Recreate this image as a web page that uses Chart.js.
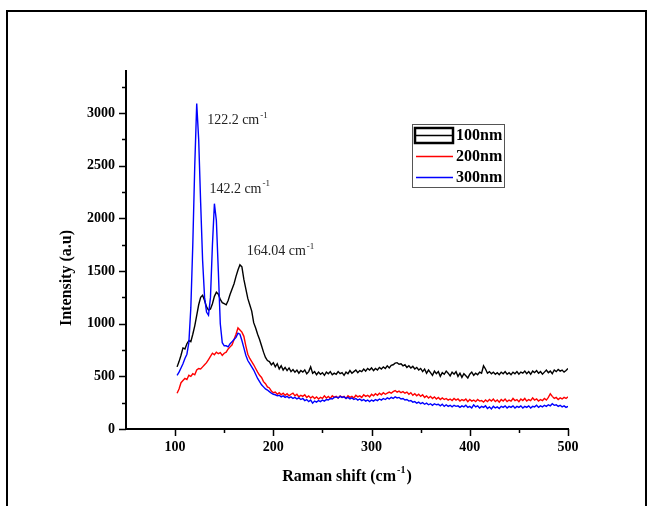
<!DOCTYPE html>
<html>
<head>
<meta charset="utf-8">
<script src="https://cdn.jsdelivr.net/npm/chart.js@4.4.1/dist/chart.umd.min.js"></script>
<style>
  html, body { margin: 0; padding: 0; background: #fff; }
  #chart { display: block; }
</style>
</head>
<body>
<canvas id="chart" width="653" height="506"></canvas>
<script>
// Raman spectra, one reading every 2 cm-1 from 102 to 500 cm-1
const shiftStart = 102;
const shiftStep = 2;

const intensity100nm = [
  590, 640, 700, 770, 760, 810, 840, 830, 900, 980,
  1080, 1180, 1250, 1270, 1220, 1160, 1130, 1140, 1190, 1260,
  1300, 1280, 1230, 1200, 1190, 1180, 1220, 1280, 1330, 1380,
  1450, 1510, 1560, 1540, 1420, 1330, 1240, 1180, 1120, 1010,
  960, 900, 850, 790, 730, 680, 650, 640, 610, 630,
  590, 620, 570, 600, 560, 585, 555, 580, 545, 565,
  540, 560, 530, 555, 540, 560, 525, 545, 590, 530,
  545, 515, 540, 520, 535, 510, 540, 525, 545, 515,
  530, 520, 545, 525, 535, 510, 540, 525, 555, 530,
  545, 560, 535, 555, 545, 570, 550, 575, 560, 580,
  555, 575, 560, 585, 570, 590, 575, 600, 580, 605,
  610, 625, 630, 615, 620, 600, 610, 585, 600, 580,
  595, 570, 585, 560, 575, 545, 570, 530, 560, 535,
  510, 550, 525, 545, 500, 535, 520, 550, 530, 505,
  540, 520, 545, 500, 530, 490, 525, 505, 485, 520,
  540, 510, 530, 515, 540, 530, 600, 570, 530, 545,
  525, 540, 520, 535, 515, 540, 525, 545, 520, 535,
  515, 540, 525, 545, 520, 540, 530, 550, 525, 545,
  520, 550, 535, 555, 530, 545, 520, 540, 560, 535,
  550, 525, 560, 545, 565, 550, 560, 540, 555, 575
];

const intensity200nm = [
  340, 380, 440, 460, 480, 470, 510, 500, 525, 515,
  560, 575, 570, 590, 610, 630, 660, 690, 720, 705,
  730, 715, 725, 700, 720, 730, 760, 780, 800, 850,
  900, 960, 940, 920, 880, 790, 710, 670, 640, 610,
  575, 540, 510, 490, 450, 430, 400, 390, 360, 345,
  350, 330, 345, 325, 340, 320, 335, 315, 330, 340,
  315, 330, 305, 320, 310, 325, 300, 315, 295, 310,
  290, 305, 285, 300, 290, 315, 295, 310, 290, 315,
  300, 310, 295, 315, 300, 310, 290, 315, 300, 310,
  295, 320, 305, 315, 300, 325, 310, 320, 305, 330,
  315, 335, 320, 340, 325, 345, 330, 340, 350, 340,
  355, 365, 350, 360, 345, 355, 340, 350, 330, 345,
  320, 335, 315, 330, 310, 325, 300, 315, 295, 310,
  290, 305, 285, 300, 280, 295, 280, 290, 275, 285,
  270, 290, 275, 285, 265, 280, 270, 285, 260, 280,
  265, 275, 260, 280, 265, 270, 255, 275, 260, 280,
  265, 285, 260, 275, 255, 280, 265, 285, 260, 275,
  265, 290, 270, 280, 260, 285, 270, 290, 265, 280,
  270, 295, 275, 285, 265, 280, 270, 290, 275, 300,
  335, 310, 290, 300, 280, 295, 285, 300, 290, 305
];

const intensity300nm = [
  510, 540, 580, 620, 670, 710, 820, 1150, 1750, 2500,
  3090, 2750, 2150, 1600, 1250, 1110, 1080, 1250, 1750, 2140,
  1980, 1500, 1000, 820, 790, 790, 780, 810, 830, 850,
  870, 910, 900, 840, 770, 700, 650, 620, 590, 560,
  520, 480, 450, 420, 400, 380, 370, 355, 340, 330,
  325, 315, 320, 305, 315, 300, 310, 295, 305, 290,
  300, 285, 295, 280, 290, 270, 280, 260, 275, 245,
  265, 255, 270, 260, 275, 265, 280, 275, 290, 285,
  300, 305, 295, 310, 300, 305, 290, 300, 285, 295,
  280, 290, 275, 285, 270, 280, 265, 275, 260, 275,
  265, 280, 270, 285, 275, 290, 280, 295, 285, 300,
  290, 305, 295, 300, 285, 290, 275, 280, 265, 270,
  255, 260, 245, 255, 240, 250, 235, 245, 230, 240,
  225, 240, 230, 235, 220, 235, 215, 230, 215, 225,
  210, 225, 215, 220, 205, 220, 210, 225, 205, 215,
  200, 230, 210, 220, 200, 215, 205, 220, 195, 210,
  190, 215, 200, 210, 195, 215, 205, 220, 200, 215,
  205, 220, 200, 215, 205, 220, 200, 215, 205, 220,
  200, 215, 210, 225, 205, 220, 210, 225, 215, 230,
  220, 240, 225, 230, 215, 225, 210, 220, 205, 215
];

const seriesNames = ["100nm", "200nm", "300nm"];
const seriesColors = ["#000000", "#ff0000", "#0000ff"];

const xMajorTicks = [100, 200, 300, 400, 500];
const xMinorTicks = [150, 250, 350, 450];
const yMajorTicks = [0, 500, 1000, 1500, 2000, 2500, 3000];
const yMinorTicks = [250, 750, 1250, 1750, 2250, 2750, 3250];

// peak labels, anchored in data units (left edge, vertical middle)
const peakLabels = [
  { text: "122.2 cm", x: 132.6, y: 2927 },
  { text: "142.2 cm", x: 134.9, y: 2279 },
  { text: "164.04 cm", x: 172.9, y: 1683 },
];

const SERIF = "'Liberation Serif', 'Times New Roman', serif";

function toPoints(values) {
  return values.map((v, i) => ({ x: shiftStart + i * shiftStep, y: v }));
}

// text followed by a raised "-1"
function drawWithSup(ctx, text, x, y, size, bold, sup) {
  const w = bold ? "bold " : "";
  ctx.font = `${w}${size}px ${SERIF}`;
  ctx.fillText(text, x, y);
  const tw = ctx.measureText(text).width;
  ctx.font = `${w}${Math.round(size * 0.62)}px ${SERIF}`;
  ctx.fillText(sup, x + tw + 1, y - size * 0.38);
  return tw + 1 + ctx.measureText(sup).width;
}

const decorations = {
  id: "decorations",
  beforeDraw(chart) {
    const ctx = chart.ctx;
    ctx.save();
    ctx.fillStyle = "#fff";
    ctx.fillRect(0, 0, chart.width, chart.height);
    ctx.restore();
  },
  afterDraw(chart) {
    const ctx = chart.ctx;
    const xs = chart.scales.x;
    const ys = chart.scales.y;
    const area = chart.chartArea;
    ctx.save();

    // outer frame (bottom edge is cut off)
    ctx.strokeStyle = "#000";
    ctx.lineWidth = 2;
    ctx.beginPath();
    ctx.moveTo(7, 520);
    ctx.lineTo(7, 11);
    ctx.lineTo(646, 11);
    ctx.lineTo(646, 520);
    ctx.stroke();

    // tick marks, pointing out
    ctx.lineWidth = 1.5;
    ctx.beginPath();
    xMajorTicks.forEach((v) => {
      const px = Math.round(xs.getPixelForValue(v)) + 0.5;
      ctx.moveTo(px, area.bottom);
      ctx.lineTo(px, area.bottom + 7);
    });
    xMinorTicks.forEach((v) => {
      const px = Math.round(xs.getPixelForValue(v)) + 0.5;
      ctx.moveTo(px, area.bottom);
      ctx.lineTo(px, area.bottom + 4);
    });
    yMajorTicks.forEach((v) => {
      const py = Math.round(ys.getPixelForValue(v)) + 0.5;
      ctx.moveTo(area.left, py);
      ctx.lineTo(area.left - 7, py);
    });
    yMinorTicks.forEach((v) => {
      const py = Math.round(ys.getPixelForValue(v)) + 0.5;
      ctx.moveTo(area.left, py);
      ctx.lineTo(area.left - 4, py);
    });
    ctx.stroke();

    // peak labels
    ctx.fillStyle = "#222";
    ctx.textBaseline = "middle";
    ctx.textAlign = "left";
    peakLabels.forEach((p) => {
      drawWithSup(ctx, p.text, xs.getPixelForValue(p.x), ys.getPixelForValue(p.y), 14, false, "-1");
    });

    // axis titles
    ctx.fillStyle = "#000";
    ctx.font = `bold 16px ${SERIF}`;
    const main = "Raman shift (cm";
    const mainW = ctx.measureText(main).width;
    ctx.font = `bold 10px ${SERIF}`;
    const supW = ctx.measureText("-1").width;
    ctx.font = `bold 16px ${SERIF}`;
    const closeW = ctx.measureText(")").width;
    let tx = (area.left + area.right) / 2 - (mainW + supW + closeW + 2) / 2;
    const tw = drawWithSup(ctx, main, tx, 477, 16, true, "-1");
    ctx.font = `bold 16px ${SERIF}`;
    ctx.fillText(")", tx + tw + 1, 477);

    ctx.save();
    ctx.translate(67, 278);
    ctx.rotate(-Math.PI / 2);
    ctx.textAlign = "center";
    ctx.fillText("Intensity (a.u)", 0, 0);
    ctx.restore();

    // legend box
    ctx.strokeStyle = "#555";
    ctx.lineWidth = 1;
    ctx.strokeRect(412.5, 124.5, 92, 63);
    const rows = [135, 156, 177];
    seriesNames.forEach((name, i) => {
      const y = rows[i];
      ctx.strokeStyle = seriesColors[i];
      if (i === 0) {
        ctx.lineWidth = 2.5;
        ctx.strokeRect(415, y - 7, 38, 15);
        ctx.lineWidth = 1.5;
        ctx.beginPath();
        ctx.moveTo(415, y + 0.5);
        ctx.lineTo(453, y + 0.5);
        ctx.stroke();
      } else {
        ctx.lineWidth = 1.3;
        ctx.beginPath();
        ctx.moveTo(416, y + 0.5);
        ctx.lineTo(453, y + 0.5);
        ctx.stroke();
      }
      ctx.fillStyle = "#000";
      ctx.font = `bold 16px ${SERIF}`;
      ctx.textAlign = "left";
      ctx.fillText(name, 456, y + 1);
    });

    ctx.restore();
  },
};

Chart.defaults.font.family = SERIF;
Chart.defaults.color = "#000";

const allSeries = [intensity100nm, intensity200nm, intensity300nm];

new Chart(document.getElementById("chart"), {
  type: "line",
  data: {
    datasets: allSeries.map((vals, i) => ({
      label: seriesNames[i],
      data: toPoints(vals),
      borderColor: seriesColors[i],
      borderWidth: 1.4,
      pointRadius: 0,
      fill: false,
      tension: 0,
      order: 3 - i,
    })),
  },
  options: {
    responsive: false,
    animation: false,
    layout: { padding: { top: 71, right: 85, left: 0, bottom: 0 } },
    plugins: {
      legend: { display: false },
      tooltip: { enabled: false },
    },
    scales: {
      x: {
        type: "linear",
        min: 50,
        max: 500,
        afterFit: (s) => { s.height = 77; },
        grid: { display: false, drawTicks: false },
        border: { display: true, color: "#000", width: 2 },
        ticks: {
          stepSize: 50,
          autoSkip: false,
          maxRotation: 0,
          padding: 10,
          font: { size: 14, weight: "bold" },
          callback: (v) => (v % 100 === 0 ? v : ""),
        },
      },
      y: {
        min: 0,
        max: 3400,
        afterFit: (s) => { s.width = 126; },
        grid: { display: false, drawTicks: false },
        border: { display: true, color: "#000", width: 2 },
        ticks: {
          stepSize: 250,
          autoSkip: false,
          padding: 11,
          font: { size: 14, weight: "bold" },
          callback: (v) => (v % 500 === 0 ? v : ""),
        },
      },
    },
  },
  plugins: [decorations],
});
</script>
</body>
</html>
